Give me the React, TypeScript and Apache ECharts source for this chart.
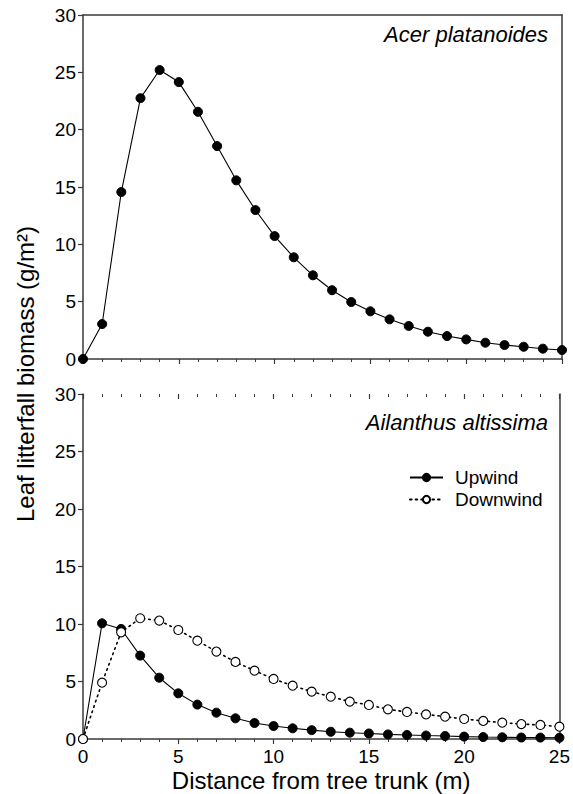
import React, { useEffect, useRef } from "react";
import * as echarts from "echarts";

const distance = [0, 1, 2, 3, 4, 5, 6, 7, 8, 9, 10, 11, 12, 13, 14, 15, 16, 17, 18, 19, 20, 21, 22, 23, 24, 25];
const acer = [0, 3.05, 14.56, 22.75, 25.2, 24.15, 21.56, 18.57, 15.58, 12.99, 10.72, 8.87, 7.3, 6.0, 4.97, 4.16, 3.46, 2.88, 2.38, 2.0, 1.71, 1.42, 1.22, 1.07, 0.9, 0.78];
const upwind = [0, 10.06, 9.57, 7.25, 5.33, 3.97, 2.99, 2.29, 1.8, 1.39, 1.13, 0.93, 0.77, 0.63, 0.55, 0.48, 0.4, 0.35, 0.3, 0.26, 0.21, 0.17, 0.15, 0.13, 0.12, 0.11];
const downwind = [0, 4.9, 9.28, 10.5, 10.3, 9.48, 8.55, 7.6, 6.7, 5.94, 5.22, 4.64, 4.12, 3.68, 3.25, 2.96, 2.58, 2.35, 2.14, 1.94, 1.74, 1.57, 1.42, 1.3, 1.22, 1.07];
const yTicks = { min: 0, max: 30, interval: 5 };
const xTicks = { min: 0, max: 25, interval: 5 };
const panelTitles = ["Acer platanoides", "Ailanthus altissima"];
const seriesNames = ["Upwind", "Downwind"];
const xTitle = "Distance from tree trunk (m)";
const yTitle = "Leaf litterfall biomass (g/m²)";

const FONT = "'Liberation Sans', Arial, Helvetica, sans-serif";
const AX = "#3a3a3a";

function pairs(vals: number[]) {
  return distance.map((d, i) => [d, vals[i]]);
}

export default function App() {
  const ref = useRef<HTMLDivElement>(null);
  useEffect(() => {
    if (!ref.current) return;
    const chart = echarts.init(ref.current, undefined, { renderer: "svg" });
    const grids = [
      { left: 83, top: 15, width: 479, height: 344 },
      { left: 83, top: 394, width: 479, height: 345 },
    ];
    const bottomX = (gi: number, labels: boolean) => ({
      type: "value",
      gridIndex: gi,
      position: "bottom",
      ...xTicks,
      axisLine: { show: true, onZero: false, lineStyle: { color: AX, width: 1.5 } },
      axisTick: { show: true, inside: false, length: 5, lineStyle: { color: AX, width: 1.2 } },
      minorTick: { show: true, splitNumber: 5, length: 3, lineStyle: { color: AX, width: 1 } },
      splitLine: { show: false },
      axisLabel: {
        show: labels,
        fontSize: 19,
        color: "#000",
        fontFamily: FONT,
        margin: 8,
      },
      name: labels ? xTitle : "",
      nameLocation: "middle",
      nameGap: 29,
      nameTextStyle: { fontSize: 24, color: "#000", fontFamily: FONT },
    });
    const topX = (gi: number, line: boolean) => ({
      type: "value",
      gridIndex: gi,
      position: "top",
      ...xTicks,
      axisLine: { show: line, onZero: false, lineStyle: { color: AX, width: 1.5 } },
      axisTick: { show: !line, inside: true, length: 5, lineStyle: { color: AX, width: 1.2 } },
      minorTick: { show: !line, splitNumber: 5, length: 3, lineStyle: { color: AX, width: 1 } },
      splitLine: { show: false },
      axisLabel: { show: false },
    });
    const leftY = (gi: number) => ({
      type: "value",
      gridIndex: gi,
      position: "left",
      ...yTicks,
      axisLine: { show: true, onZero: false, lineStyle: { color: AX, width: 1.5 } },
      axisTick: { show: true, inside: false, length: 5, lineStyle: { color: AX, width: 1.2 } },
      splitLine: { show: false },
      axisLabel: { fontSize: 19, color: "#000", fontFamily: FONT, margin: 7 },
    });
    const rightY = (gi: number) => ({
      type: "value",
      gridIndex: gi,
      position: "right",
      ...yTicks,
      axisLine: { show: true, onZero: false, lineStyle: { color: AX, width: 1.5 } },
      axisTick: { show: false },
      splitLine: { show: false },
      axisLabel: { show: false },
    });
    const filled = {
      symbol: "circle",
      symbolSize: 9,
      itemStyle: { color: "#000", borderColor: "#000", borderWidth: 1 },
      lineStyle: { color: "#000", width: 1.1, type: "solid" },
    };
    chart.setOption({
      animation: false,
      backgroundColor: "#fff",
      grid: grids,
      xAxis: [bottomX(0, false), topX(0, true), bottomX(1, true), topX(1, false)],
      yAxis: [leftY(0), rightY(0), leftY(1), rightY(1)],
      legend: {
        data: seriesNames,
        orient: "vertical",
        left: 404,
        top: 463,
        itemWidth: 33,
        itemHeight: 9,
        itemGap: 3,
        textStyle: { fontSize: 19, color: "#000", fontFamily: FONT, padding: [0, 0, 0, 7] },
      },
      graphic: [
        {
          type: "text",
          x: 548,
          y: 34,
          style: {
            text: panelTitles[0],
            fontSize: 22,
            fontStyle: "italic",
            fontFamily: FONT,
            fill: "#000",
            align: "right",
            verticalAlign: "middle",
          },
        },
        {
          type: "text",
          x: 548,
          y: 422,
          style: {
            text: panelTitles[1],
            fontSize: 22,
            fontStyle: "italic",
            fontFamily: FONT,
            fill: "#000",
            align: "right",
            verticalAlign: "middle",
          },
        },
        {
          type: "text",
          x: 25,
          y: 374,
          rotation: Math.PI / 2,
          style: {
            text: yTitle,
            fontSize: 24,
            fontFamily: FONT,
            fill: "#000",
            align: "center",
            verticalAlign: "middle",
          },
        },
      ],
      series: [
        {
          name: "Acer",
          type: "line",
          xAxisIndex: 0,
          yAxisIndex: 0,
          data: pairs(acer),
          ...filled,
          z: 3,
        },
        {
          name: seriesNames[0],
          type: "line",
          xAxisIndex: 2,
          yAxisIndex: 2,
          data: pairs(upwind),
          ...filled,
          z: 3,
        },
        {
          name: seriesNames[1],
          type: "line",
          xAxisIndex: 2,
          yAxisIndex: 2,
          data: pairs(downwind),
          symbol: "circle",
          symbolSize: 9,
          itemStyle: { color: "#fff", borderColor: "#000", borderWidth: 1.1 },
          lineStyle: { color: "#000", width: 1.6, type: [1.6, 4], cap: "round" },
          z: 4,
        },
      ],
    });
    return () => chart.dispose();
  }, []);
  return (
    <div
      ref={ref}
      style={{ position: "fixed", left: 0, top: 0, width: 573, height: 794, background: "#fff" }}
    />
  );
}
